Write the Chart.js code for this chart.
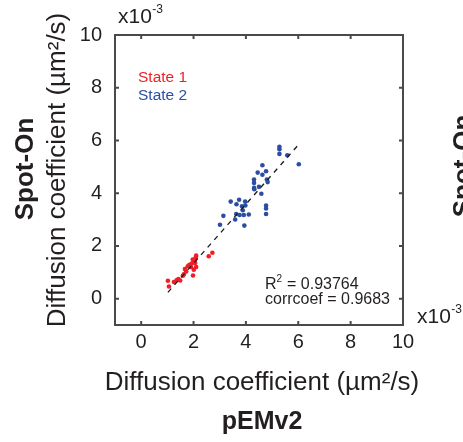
<!DOCTYPE html>
<html>
<head>
<meta charset="utf-8">
<script src="https://cdn.jsdelivr.net/npm/chart.js@4"></script>
<style>
  body { margin: 0; background: #fff; }
  #wrap { width: 463px; height: 442px; position: relative; }
</style>
</head>
<body>
<div id="wrap"><canvas id="scatterChart"></canvas></div>
<script>
// values are in units of 1e-3 um^2/s, as shown on the axes
var state1X = [1.02, 1.06, 1.25, 1.35, 1.42, 1.49, 1.59, 1.63, 1.67, 1.72, 1.78, 1.84, 1.90, 1.93, 1.97, 1.98, 2.01, 2.03, 2.06, 2.08, 2.09, 2.10, 2.10, 2.58, 2.72];
var state1Y = [0.68, 0.46, 0.63, 0.70, 0.74, 0.69, 0.87, 0.92, 1.12, 1.03, 1.23, 1.28, 1.20, 1.33, 1.48, 0.88, 1.10, 1.42, 1.35, 1.52, 1.58, 1.20, 1.63, 1.61, 1.74];
var state2X = [3.01, 3.14, 3.42, 3.59, 3.63, 3.64, 3.74, 3.76, 3.85, 3.88, 3.92, 3.94, 3.97, 3.98, 4.11, 4.31, 4.31, 4.31, 4.32, 4.45, 4.50, 4.59, 4.63, 4.63, 4.77, 4.80, 4.83, 4.77, 4.77, 4.77, 5.28, 5.28, 5.28, 5.58, 6.02];
var state2Y = [2.80, 3.14, 3.68, 3.00, 3.21, 3.58, 3.75, 3.17, 3.50, 3.35, 3.17, 2.77, 3.68, 3.53, 3.19, 4.52, 4.39, 4.20, 4.15, 4.78, 4.24, 3.98, 5.06, 4.70, 4.83, 4.52, 4.42, 3.53, 3.42, 3.21, 5.76, 5.67, 5.49, 5.44, 5.10];
var fitX = [1.02, 6.02];
var fitY = [0.24, 5.85];
var tickValues = [0, 2, 4, 6, 8, 10];

var seriesNames = ['State 1', 'State 2'];
var seriesColors = ['#ee1f27', '#2b4ea2'];
var axisColor = '#4a4a4a';
var fontName = '"Liberation Sans", Arial, sans-serif';

function toPoints(xs, ys) {
  return xs.map(function(x, i) { return { x: x, y: ys[i] }; });
}

function setTicks(scale) {
  scale.ticks = tickValues.map(function(v) { return { value: v }; });
}

// draws "x10" with a raised "-3"
function drawExponent(ctx, x, y) {
  ctx.font = '21px ' + fontName;
  ctx.textAlign = 'left';
  ctx.textBaseline = 'alphabetic';
  ctx.fillText('x10', x, y);
  var w = ctx.measureText('x10').width;
  ctx.font = '12px ' + fontName;
  ctx.fillText('-3', w + x + 0.5, y - 10);
}

var decorations = {
  id: 'decorations',
  afterDraw: function(chart) {
    var ctx = chart.ctx;
    var a = chart.chartArea;
    var xs = chart.scales.x, ys = chart.scales.y;
    ctx.save();

    // box with inward ticks on all sides
    ctx.strokeStyle = axisColor;
    ctx.lineWidth = 2;
    ctx.strokeRect(a.left, a.top, a.right - a.left, a.bottom - a.top);
    ctx.beginPath();
    tickValues.forEach(function(v) {
      var px = xs.getPixelForValue(v);
      ctx.moveTo(px, a.bottom); ctx.lineTo(px, a.bottom - 4);
      ctx.moveTo(px, a.top); ctx.lineTo(px, a.top + 4);
      var py = ys.getPixelForValue(v);
      ctx.moveTo(a.left, py); ctx.lineTo(a.left + 4, py);
      ctx.moveTo(a.right, py); ctx.lineTo(a.right - 4, py);
    });
    ctx.stroke();

    // legend text
    ctx.textAlign = 'left';
    ctx.textBaseline = 'alphabetic';
    ctx.font = '15.5px ' + fontName;
    ctx.fillStyle = seriesColors[0];
    ctx.fillText(seriesNames[0], 138, 82);
    ctx.fillStyle = seriesColors[1];
    ctx.fillText(seriesNames[1], 138, 100);

    // fit statistics
    ctx.fillStyle = '#231f20';
    ctx.font = '16px ' + fontName;
    ctx.fillText('R', 265, 289);
    var rw = ctx.measureText('R').width;
    ctx.font = '10px ' + fontName;
    ctx.fillText('2', 265 + rw, 282);
    ctx.font = '16px ' + fontName;
    ctx.fillText(' = 0.93764', 265 + rw + 6, 289);
    ctx.fillText('corrcoef = 0.9683', 265, 304);

    // exponent labels
    drawExponent(ctx, 118, 23);
    drawExponent(ctx, 417, 323);

    // axis titles
    ctx.fillStyle = '#231f20';
    ctx.textAlign = 'center';
    ctx.font = '26px ' + fontName;
    ctx.fillText('Diffusion coefficient (\u00b5m\u00b2/s)', 262, 390);
    ctx.font = 'bold 25px ' + fontName;
    ctx.fillText('pEMv2', 262, 429);

    ctx.save();
    ctx.translate(65, 170);
    ctx.rotate(-Math.PI / 2);
    ctx.font = '26px ' + fontName;
    ctx.fillText('Diffusion coefficient (\u00b5m\u00b2/s)', 0, 0);
    ctx.restore();

    ctx.save();
    ctx.translate(33, 169);
    ctx.rotate(-Math.PI / 2);
    ctx.font = 'bold 26px ' + fontName;
    ctx.fillText('Spot-On', 0, 0);
    ctx.restore();

    // edge of the neighbouring panel
    ctx.save();
    ctx.translate(471, 166);
    ctx.rotate(-Math.PI / 2);
    ctx.font = 'bold 26px ' + fontName;
    ctx.fillText('Spot-On', 0, 0);
    ctx.restore();

    ctx.restore();
  }
};

var ctx = document.getElementById('scatterChart').getContext('2d');
var chart = new Chart(ctx, {
  type: 'scatter',
  data: {
    datasets: [
      {
        type: 'line',
        label: 'fit',
        data: toPoints(fitX, fitY),
        borderColor: '#1a1a1a',
        borderWidth: 1.3,
        borderDash: [5, 5],
        pointRadius: 0,
        fill: false
      },
      {
        label: seriesNames[0],
        data: toPoints(state1X, state1Y),
        backgroundColor: seriesColors[0],
        borderWidth: 0,
        pointRadius: 2.3
      },
      {
        label: seriesNames[1],
        data: toPoints(state2X, state2Y),
        backgroundColor: seriesColors[1],
        borderWidth: 0,
        pointRadius: 2.3
      }
    ]
  },
  options: {
    responsive: true,
    maintainAspectRatio: false,
    animation: false,
    layout: { padding: { left: 75, right: 60, top: 35, bottom: 77 } },
    plugins: {
      legend: { display: false },
      tooltip: { enabled: false }
    },
    scales: {
      x: {
        type: 'linear',
        min: -1,
        max: 10,
        afterBuildTicks: setTicks,
        afterFit: function(scale) { scale.height = 40; },
        grid: { display: false, drawTicks: false },
        border: { display: false },
        ticks: {
          padding: 5,
          color: '#231f20',
          font: { family: fontName, size: 20 }
        }
      },
      y: {
        type: 'linear',
        min: -1,
        max: 10,
        afterBuildTicks: setTicks,
        afterFit: function(scale) { scale.width = 40; },
        grid: { display: false, drawTicks: false },
        border: { display: false },
        ticks: {
          padding: 13,
          color: '#231f20',
          font: { family: fontName, size: 20 }
        }
      }
    }
  },
  plugins: [decorations]
});
</script>
</body>
</html>
